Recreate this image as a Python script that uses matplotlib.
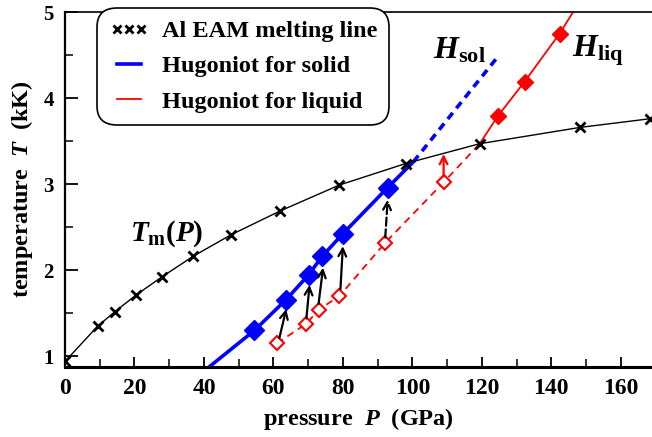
import matplotlib
matplotlib.use("Agg")
import matplotlib.pyplot as plt
from matplotlib.lines import Line2D

plt.rcParams['font.family'] = ['Liberation Serif', 'DejaVu Serif']
plt.rcParams['font.weight'] = 'bold'
plt.rcParams['axes.labelweight'] = 'bold'
plt.rcParams['mathtext.fontset'] = 'custom'
plt.rcParams['mathtext.it'] = 'Liberation Serif:italic:bold'
plt.rcParams['mathtext.rm'] = 'Liberation Serif:bold'
plt.rcParams['mathtext.bf'] = 'Liberation Serif:bold'

# Al EAM melting line
melt_p = [0, 9.4, 14.4, 20.4, 27.8, 36.8, 47.7, 62, 79, 98.1, 119.4, 148.4, 168.4]
melt_t = [0.94, 1.35, 1.52, 1.71, 1.92, 2.16, 2.41, 2.69, 2.99, 3.24, 3.47, 3.66, 3.76]

# Hugoniot for solid (solid part, then metastable dashed part)
sol_line_p = [41.6, 54.5, 63.7, 70.2, 74.0, 79.9, 92.9, 100.3]
sol_line_t = [0.88, 1.30, 1.66, 1.95, 2.16, 2.42, 2.96, 3.26]
sol_dash_p = [100.3, 124.2]
sol_dash_t = [3.26, 4.46]
sol_pts_p = [54.5, 63.7, 70.2, 74.0, 79.9, 92.9]
sol_pts_t = [1.30, 1.66, 1.95, 2.16, 2.42, 2.96]

# Hugoniot for liquid
liq_line_p = [119.4, 124.6, 132.3, 142.4, 146.3]
liq_line_t = [3.47, 3.79, 4.19, 4.75, 5.0]
liq_pts_p = [124.6, 132.3, 142.4]
liq_pts_t = [3.79, 4.19, 4.75]
liq_dash_p = [61.0, 69.5, 73.0, 79.0, 92.2, 109.2, 119.4]
liq_dash_t = [1.15, 1.38, 1.54, 1.70, 2.32, 3.03, 3.47]
liq_open_p = [61.0, 69.5, 73.0, 79.0, 92.2, 109.2]
liq_open_t = [1.15, 1.38, 1.54, 1.70, 2.32, 3.03]

# arrows (start -> end)
arr_p0 = [61.7, 69.5, 73.0, 79.3, 92.2, 109.0]
arr_t0 = [1.21, 1.44, 1.61, 1.78, 2.38, 3.09]
arr_p1 = [63.7, 70.4, 74.3, 80.0, 92.9, 109.0]
arr_t1 = [1.55, 1.83, 2.03, 2.28, 2.82, 3.35]
arr_color = ['black', 'black', 'black', 'black', 'black', 'red']
arr_style = ['-', '-', '-', '-', '--', '-']

fig = plt.figure(figsize=(6.52, 4.37), dpi=100)
ax = fig.add_axes([0.0997, 0.160, 0.9003, 0.8125])

ax.plot(melt_p, melt_t, color='black', lw=1.0, marker='x', ms=7, mew=2, zorder=3)
ax.plot(sol_line_p, sol_line_t, color='blue', lw=2.6, zorder=2)
ax.plot(sol_dash_p, sol_dash_t, color='blue', lw=2.6, ls=(0, (2.2, 1.6)), zorder=2)
ax.plot(sol_pts_p, sol_pts_t, ls='none', marker='D', ms=10, color='blue', zorder=4)
ax.plot(liq_line_p, liq_line_t, color='red', lw=1.3, zorder=2)
ax.plot(liq_pts_p, liq_pts_t, ls='none', marker='D', ms=8, color='red', zorder=4)
ax.plot(liq_dash_p, liq_dash_t, color='red', lw=1.3, ls=(0, (4, 3)), zorder=2)
ax.plot(liq_open_p, liq_open_t, ls='none', marker='D', ms=7.5, mfc='white',
        mec='red', mew=1.5, zorder=4)

for i in range(len(arr_p0)):
    ax.annotate('', xy=(arr_p1[i], arr_t1[i]), xytext=(arr_p0[i], arr_t0[i]),
                arrowprops=dict(arrowstyle='->', color=arr_color[i], lw=1.6,
                                linestyle=arr_style[i], mutation_scale=14,
                                shrinkA=0, shrinkB=0), zorder=5)

ax.text(18.7, 2.43, r'$T_{\mathrm{m}}(P)$', fontsize=21, va='center', ha='left')
ax.text(106.0, 4.55, r'$H_{\mathrm{sol}}$', fontsize=23, va='center', ha='left')
ax.text(146.0, 4.55, r'$H_{\mathrm{liq}}$', fontsize=23, va='center', ha='left')

ax.set_xlim(0, 169)
ax.set_ylim(0.875, 5)
ax.set_xticks(range(0, 170, 20))
ax.set_xticks(range(10, 170, 20), minor=True)
ax.set_yticks([1, 2, 3, 4, 5])
ax.set_yticks([1.5, 2.5, 3.5, 4.5], minor=True)
ax.tick_params(which='both', direction='in')
ax.tick_params(axis='x', labelsize=17, pad=8)
ax.tick_params(axis='y', labelsize=15, pad=8)
ax.tick_params(axis='x', which='major', length=7, width=1.3)
ax.tick_params(axis='x', which='minor', length=6, width=1.1)
ax.tick_params(axis='y', which='major', length=9, width=1.3)
ax.tick_params(axis='y', which='minor', length=6, width=1.1)
ax.spines['right'].set_visible(False)
ax.spines['bottom'].set_linewidth(2.2)
ax.spines['left'].set_linewidth(1.6)
ax.spines['top'].set_linewidth(1.2)

ax.set_xlabel(r'pressure  $P$  (GPa)', fontsize=17.5, labelpad=5)
ax.set_ylabel(r'temperature  $T$  (kK)', fontsize=17.5, labelpad=6)

handles = [
    Line2D([], [], color='black', ls='none', marker='x', ms=6, mew=2),
    Line2D([], [], color='blue', lw=2.6),
    Line2D([], [], color='red', lw=1.3),
]
labels = ['Al EAM melting line', 'Hugoniot for solid', 'Hugoniot for liquid']
leg = fig.legend(handles, labels, loc='upper left', bbox_to_anchor=(0.149, 0.982),
                 numpoints=3, fontsize=17.5, handlelength=1.6, frameon=True,
                 fancybox=True, edgecolor='black', framealpha=1,
                 borderpad=0.5, labelspacing=0.55, handletextpad=0.55,
                 borderaxespad=0)
leg.get_frame().set_linewidth(1.2)
leg.get_frame().set_boxstyle('round,pad=0,rounding_size=0.8')
leg.set_zorder(10)

fig.savefig('out.png', dpi=100)
